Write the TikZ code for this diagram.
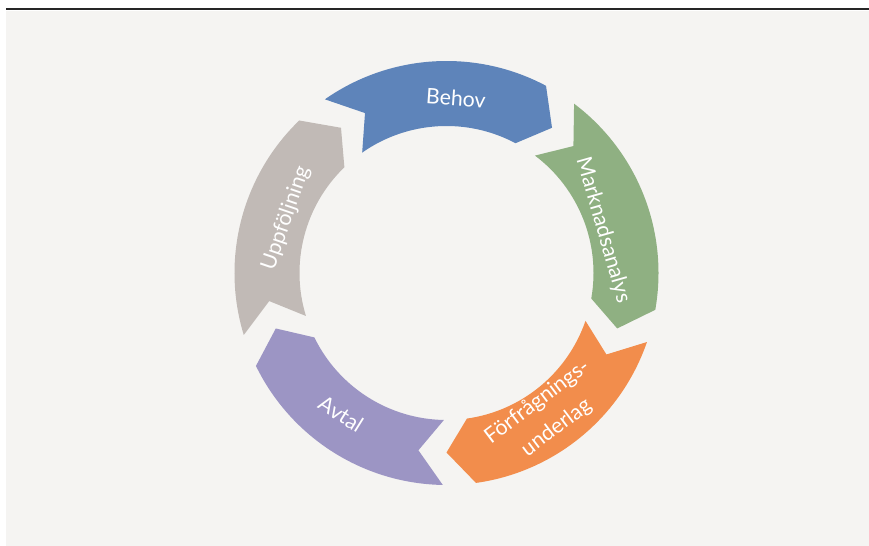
\documentclass[tikz,border=0pt]{standalone}
\usepackage{fontspec}
\setmainfont{Lato}
\usepackage{tikz}
\usetikzlibrary{positioning}
\definecolor{bgpaper}{RGB}{245,244,242}
\definecolor{behovblue}{RGB}{94,132,186}
\definecolor{marknadgreen}{RGB}{143,176,130}
\definecolor{forfrorange}{RGB}{242,141,76}
\definecolor{avtalpurple}{RGB}{156,149,196}
\definecolor{uppfgray}{RGB}{193,186,182}
\tikzstyle{lbl} = [text=white, font=\fontsize{16}{24}\selectfont, align=center, inner sep=0pt]

\begin{document}
\begin{tikzpicture}[x=0.75pt,y=0.75pt]
  \useasboundingbox (0,0) rectangle (869,546);
  \fill[bgpaper] (6,0) rectangle (869,535);
  \draw[line width=1.2pt, black!85] (6,537) -- (869,537);
  % cycle segments, clockwise from the top
  \begin{scope}[shift={(446.5,273)}]
    \foreach \a/\col in {90/behovblue, 18/marknadgreen, -54/forfrorange, -126/avtalpurple, -198/uppfgray} {
      \fill[\col] ({\a+35}:212) arc[start angle=\a+35, end angle=\a-28, radius=212]
        -- ({\a-36}:179.5) -- ({\a-28}:147)
        arc[start angle=\a-28, end angle=\a+35, radius=147]
        -- ({\a+27}:179.5) -- cycle;
    }
  \end{scope}
  \node[lbl, rotate=-4] (behov) at (456,448) {Behov};
  \node[lbl, rotate=-74] (marknad) at (603,316) {Marknadsanalys};
  \node[lbl, rotate=37] (forfr) at (547,131) {Förfrågnings-\\underlag};
  \node[lbl, rotate=-32] (avtal) at (341,132) {Avtal};
  \node[lbl, rotate=71] (uppf) at (286,328) {Uppföljning};
\end{tikzpicture}
\end{document}
